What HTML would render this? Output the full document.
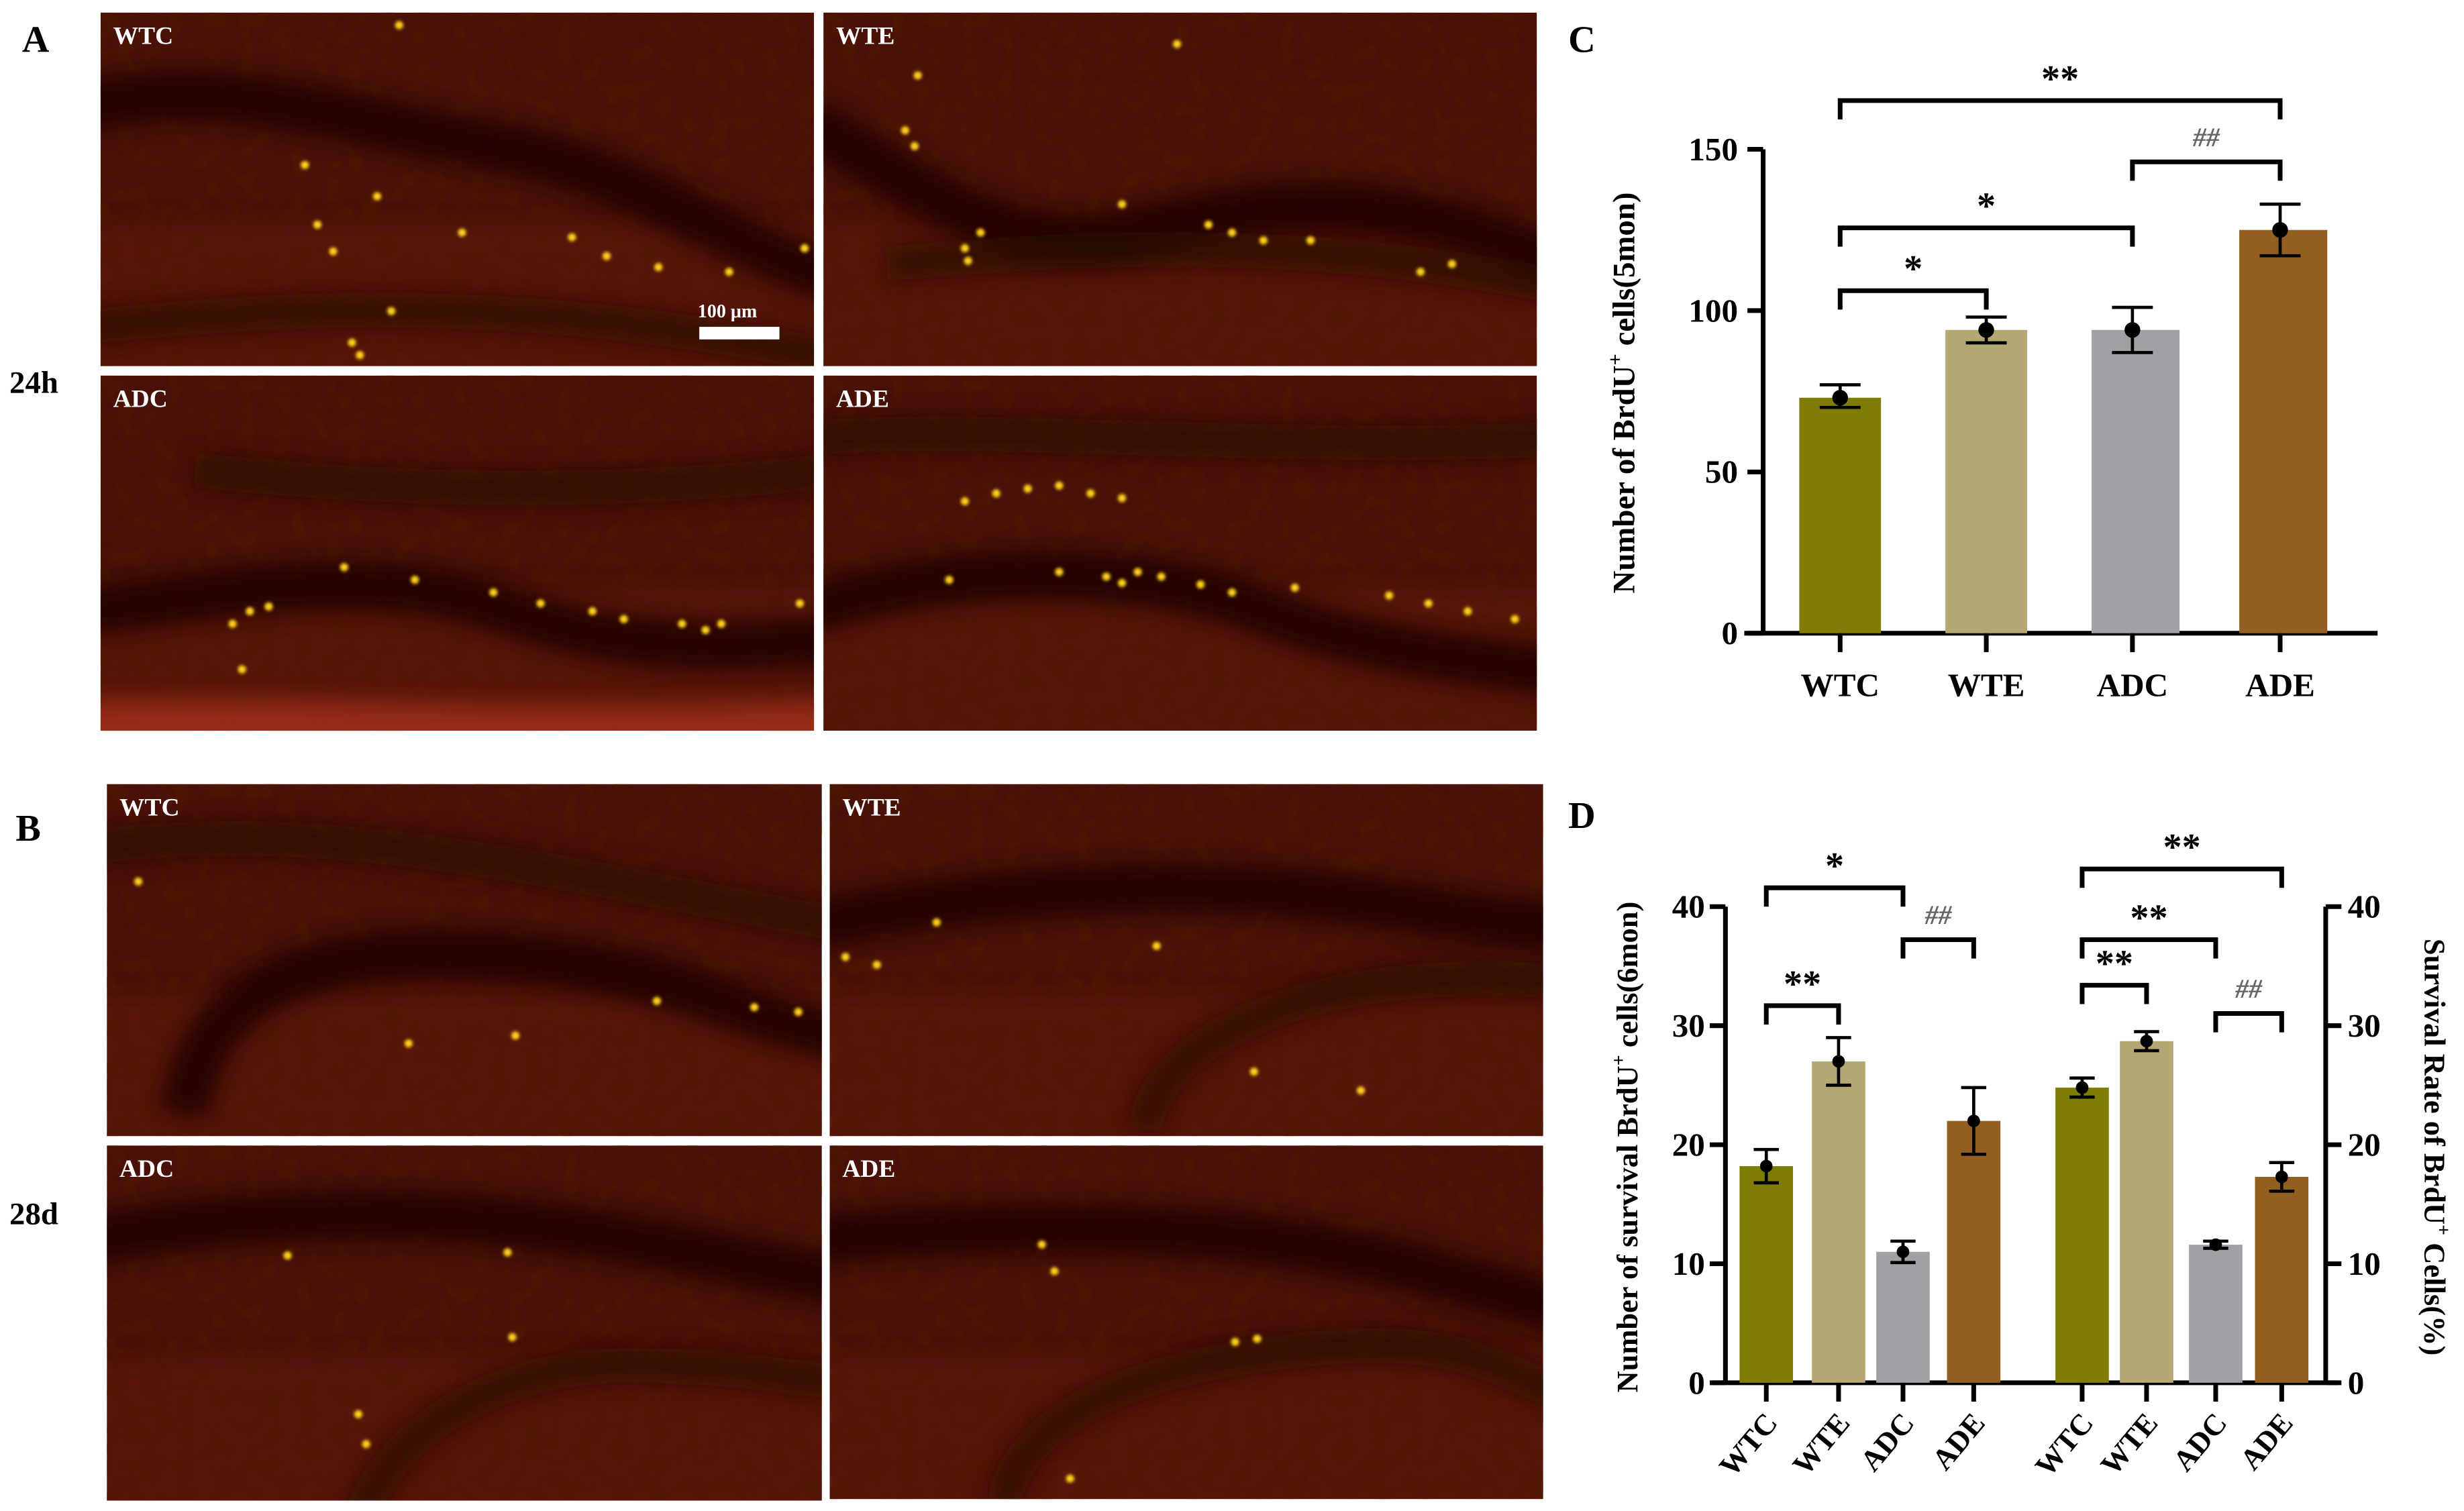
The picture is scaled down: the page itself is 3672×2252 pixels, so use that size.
<!DOCTYPE html>
<html><head><meta charset="utf-8"><style>
html,body{margin:0;padding:0;background:#fff;}
svg{display:block;}
text{font-family:"Liberation Serif",serif;font-weight:bold;}
</style></head><body>
<svg id="fig" xmlns="http://www.w3.org/2000/svg" width="3672" height="2252" viewBox="0 0 1568 961.6" preserveAspectRatio="none">
<defs>
<filter id="bl" filterUnits="userSpaceOnUse" x="-100" y="-100" width="700" height="450"><feGaussianBlur stdDeviation="7"/></filter>
<filter id="bl2" filterUnits="userSpaceOnUse" x="-100" y="-100" width="700" height="450"><feGaussianBlur stdDeviation="1"/></filter>
<filter id="tex" filterUnits="userSpaceOnUse" x="0" y="0" width="460" height="230">
  <feTurbulence type="fractalNoise" baseFrequency="0.09" numOctaves="2" seed="4"/>
  <feColorMatrix type="matrix" values="0 0 0 0 0.08  0 0 0 0 0.01  0 0 0 0 0  0 0 0 -3.2 1.75"/>
</filter>
</defs>
<rect width="1568" height="962" fill="#fff"/>

<text x="14" y="33" font-size="24">A</text>
<text x="10" y="535" font-size="24">B</text>
<text x="6" y="250" font-size="20">24h</text>
<text x="6" y="779" font-size="20">28d</text>
<text x="998" y="33" font-size="24">C</text>
<text x="998" y="527" font-size="24">D</text>

<g id="panels"></g>
<g id="chartC"></g>
<g id="chartD"></g>
</svg>
<script>
// ---------- Chart C data ----------
const cCategories = ["WTC","WTE","ADC","ADE"];
const cValues = [73, 94, 94, 125];
const cErrHi = [77, 98, 101, 133];
const cErrLo = [70, 90, 87, 117];
const cTicks = [0, 50, 100, 150];
// ---------- Chart D data ----------
const dCategories = ["WTC","WTE","ADC","ADE"];
const dCountValues = [18.2, 27.0, 11.0, 22.0];
const dCountErr = [1.4, 2.0, 0.9, 2.8];
const dRateValues = [24.8, 28.7, 11.6, 17.3];
const dRateErr = [0.8, 0.8, 0.3, 1.2];
const dTicks = [0, 10, 20, 30, 40];
const colors = ["#7f7d06","#b3a873","#a1a0a4","#935f21"];

const NS = "http://www.w3.org/2000/svg";
function mk(tag, attrs, parent, txt){
  const e = document.createElementNS(NS, tag);
  for (const k in attrs) e.setAttribute(k, attrs[k]);
  if (txt !== undefined) e.textContent = txt;
  parent.appendChild(e);
  return e;
}

// ---------- Microscopy panels ----------
const panelsG = document.getElementById('panels');
const panelDefs = [
 {x:64,y:8,w:454,h:225,lab:"WTC",band:"M-10 60 C 80 40, 160 70, 250 85 S 400 150, 470 170",band2:"M-10 200 C 100 190, 250 175, 470 220",dots:[[130,97],[176,117],[138,135],[148,152],[230,140],[300,143],[322,155],[355,162],[400,165],[448,150],[160,210],[165,218],[185,190],[190,8]]},
 {x:524,y:8,w:454,h:225,lab:"WTE",band:"M-10 70 C 60 110, 120 160, 200 140 S 350 110, 470 160",band2:"M40 160 C 150 150, 300 140, 470 175",dots:[[52,75],[58,85],[90,150],[92,158],[100,140],[190,122],[245,135],[260,140],[280,145],[310,145],[380,165],[400,160],[225,20],[60,40]]},
 {x:64,y:239,w:454,h:226,lab:"ADC",band:"M-10 150 C 80 140, 170 120, 260 150 S 400 170, 470 170",band2:"M60 60 C 150 70, 300 80, 470 60",dots:[[84,158],[95,150],[107,147],[155,122],[200,130],[250,138],[280,145],[313,150],[333,155],[370,158],[385,162],[395,158],[445,145],[90,187]]},
 {x:524,y:239,w:454,h:226,lab:"ADE",band:"M-10 150 C 80 120, 200 120, 280 150 S 420 180, 470 190",band2:"M-10 40 C 100 30, 300 50, 470 40",dots:[[90,80],[110,75],[130,72],[150,70],[170,75],[190,78],[150,125],[180,128],[190,132],[200,125],[215,128],[240,133],[260,138],[300,135],[360,140],[385,145],[410,150],[440,155],[80,130]]},
 {x:68,y:499,w:455,h:224,lab:"WTC",band:"M50 210 C 60 120, 150 100, 260 110 S 400 150, 470 160",band2:"M-10 40 C 150 20, 300 60, 470 90",dots:[[20,62],[260,160],[350,138],[192,165],[412,142],[440,145]]},
 {x:528,y:499,w:454,h:224,lab:"WTE",band:"M-10 90 C 80 70, 200 60, 300 70 S 420 90, 470 90",band2:"M200 220 C 210 160, 300 130, 380 125 S 440 130, 470 120",dots:[[10,110],[30,115],[68,88],[208,103],[270,183],[338,195]]},
 {x:68,y:729,w:455,h:226,lab:"ADC",band:"M-10 60 C 100 40, 200 40, 300 55 S 420 80, 470 85",band2:"M160 240 C 180 180, 250 140, 330 140 S 440 150, 470 150",dots:[[115,70],[255,68],[258,122],[165,190],[160,171]]},
 {x:528,y:729,w:454,h:225,lab:"ADE",band:"M-10 60 C 100 50, 250 45, 380 80 S 440 100, 470 100",band2:"M110 230 C 120 170, 200 140, 300 130 S 420 140, 470 160",dots:[[135,63],[143,80],[258,125],[272,123],[153,212]]}
];
panelDefs.forEach((p,i)=>{
  const g = mk('g',{transform:`translate(${p.x},${p.y})`},panelsG);
  
  
  const cp = mk('clipPath',{id:'pc'+i},g);
  mk('rect',{x:0,y:0,width:p.w,height:p.h},cp);
  const inner = mk('g',{'clip-path':`url(#pc${i})`},g);
  mk('rect',{x:0,y:0,width:p.w,height:p.h,fill:'#4a1109'},inner);
  mk('rect',{x:-20,y:p.h*0.6,width:p.w+40,height:p.h*0.5,fill:'#6a1d0e',opacity:0.45,filter:'url(#bl)'},inner);
  mk('rect',{x:0,y:0,width:p.w,height:p.h,filter:'url(#tex)',opacity:0.7},inner);
  mk('path',{d:p.band,stroke:'#1a0402',fill:'none','stroke-width':30,filter:'url(#bl)',opacity:0.85},inner);
  mk('path',{d:p.band2,stroke:'#250703',fill:'none','stroke-width':22,filter:'url(#bl)',opacity:0.65},inner);
  if (i===2) mk('path',{d:`M-20 ${p.h-18} C 120 ${p.h-24}, 300 ${p.h-8}, 480 ${p.h-20} V ${p.h+20} H -20 Z`,fill:'#a8321a',filter:'url(#bl)',opacity:0.8},inner);
  p.dots.forEach(d=>{
    const c = mk('circle',{cx:d[0],cy:d[1],r:2.6,fill:'#ffd21e',filter:'url(#bl2)'},inner);
    
    
  });
  const t = mk('text',{x:8,y:20,'font-size':16,fill:'#fff'},g,p.lab);
  
  
});
{
  const sb = mk('text',{x:444,y:202,'font-size':12,fill:'#fff'},panelsG,'100 μm');
  
  
  const sr = mk('rect',{x:445,y:208,width:51,height:8,fill:'#fff'},panelsG);
  
  
}

function bracket(g, x1, x2, y, tip, label, hash){
  const p = mk('path',{d:`M${x1} ${y+tip} V${y} H${x2} V${y+tip}`,fill:'none',stroke:'#000','stroke-width':3},g);
  
  
  const t = mk('text',{x:(x1+x2)/2,y:hash? y-10 : y-6,'text-anchor':'middle','font-size':hash?17:24,fill:hash?'#666':'#000','font-style':hash?'italic':'normal','font-weight':hash?'normal':'bold'},g,label);
  
  
}

// ---------- Chart C ----------
{
  const g = document.getElementById('chartC');
  const y0=403, yTop=95, vmax=150;
  const yS = v => y0 - (v/vmax)*(y0-yTop);
  const xC = [1171,1264,1357,1451];
  const bw=62;
  mk('line',{x1:1122,y1:yTop,x2:1122,y2:y0,stroke:'#000','stroke-width':3},g);
  const xa = mk('line',{x1:1110,y1:y0,x2:1513,y2:y0,stroke:'#000','stroke-width':3},g);
   
  cTicks.forEach(t=>{
    mk('line',{x1:1112,y1:yS(t),x2:1122,y2:yS(t),stroke:'#000','stroke-width':3},g);
    const tl = mk('text',{x:1106,y:yS(t)+7,'text-anchor':'end','font-size':21},g,String(t));
     
  });
  cCategories.forEach((c,i)=>{
    const x=xC[i];
    const b = mk('rect',{x:x-bw/2+5,y:yS(cValues[i]),width:bw-10+ (i>=2?4:0),height:y0-yS(cValues[i]),fill:colors[i]},g);
     
    mk('line',{x1:x,y1:y0,x2:x,y2:y0+12,stroke:'#000','stroke-width':3},g);
    mk('path',{d:`M${x-13} ${yS(cErrHi[i])} H${x+13} M${x} ${yS(cErrHi[i])} V${yS(cErrLo[i])} M${x-13} ${yS(cErrLo[i])} H${x+13}`,stroke:'#000','stroke-width':2,fill:'none'},g);
    mk('circle',{cx:x,cy:yS(cValues[i]),r:5,fill:'#000'},g);
    const xl = mk('text',{x:x,y:y0+40,'text-anchor':'middle','font-size':21},g,c);
     
  });
  const yt = mk('text',{transform:`translate(1040,250) rotate(-90)`,'text-anchor':'middle','font-size':20},g);
   
  yt.innerHTML = 'Number of BrdU<tspan dy="-8" font-size="13">+</tspan><tspan dy="8"> cells(5mon)</tspan>';
  bracket(g,1171,1451,64,12,'**');
  bracket(g,1357,1451,103,12,'##',true);
  bracket(g,1171,1357,145,12,'*');
  bracket(g,1171,1264,185,12,'*');
}

// ---------- Chart D ----------
{
  const g = document.getElementById('chartD');
  const y0=880, yTop=577, vmax=40;
  const yS = v => y0 - (v/vmax)*(y0-yTop);
  const xL = [1124,1170,1211,1256];
  const xR = [1325,1366,1410,1452];
  const bw=34;
  mk('line',{x1:1098,y1:yTop,x2:1098,y2:y0,stroke:'#000','stroke-width':3},g);
  mk('line',{x1:1480,y1:yTop,x2:1480,y2:y0,stroke:'#000','stroke-width':3},g);
  const xa = mk('line',{x1:1090,y1:y0,x2:1488,y2:y0,stroke:'#000','stroke-width':3},g);
   
  dTicks.forEach(t=>{
    mk('line',{x1:1088,y1:yS(t),x2:1098,y2:yS(t),stroke:'#000','stroke-width':3},g);
    mk('line',{x1:1480,y1:yS(t),x2:1490,y2:yS(t),stroke:'#000','stroke-width':3},g);
    const tl = mk('text',{x:1085,y:yS(t)+7,'text-anchor':'end','font-size':21},g,String(t));
     
    const tr = mk('text',{x:1494,y:yS(t)+7,'text-anchor':'start','font-size':21},g,String(t));
     
  });
  function series(xs, vals, errs, tag){
    dCategories.forEach((c,i)=>{
      const x=xs[i];
      const b = mk('rect',{x:x-bw/2,y:yS(vals[i]),width:bw,height:y0-yS(vals[i]),fill:colors[i]},g);
       
      mk('line',{x1:x,y1:y0,x2:x,y2:y0+12,stroke:'#000','stroke-width':3},g);
      const hi=yS(vals[i]+errs[i]), lo=yS(vals[i]-errs[i]);
      mk('path',{d:`M${x-8} ${hi} H${x+8} M${x} ${hi} V${lo} M${x-8} ${lo} H${x+8}`,stroke:'#000','stroke-width':2,fill:'none'},g);
      mk('circle',{cx:x,cy:yS(vals[i]),r:4,fill:'#000'},g);
      const xl = mk('text',{transform:`translate(${x+8},${y0+26}) rotate(-50)`,'text-anchor':'end','font-size':19},g,c);
       
    });
  }
  series(xL,dCountValues,dCountErr,'count');
  series(xR,dRateValues,dRateErr,'rate');
  const yt = mk('text',{transform:`translate(1042,730) rotate(-90)`,'text-anchor':'middle','font-size':19},g);
   
  yt.innerHTML = 'Number of survival BrdU<tspan dy="-8" font-size="12">+</tspan><tspan dy="8"> cells(6mon)</tspan>';
  const yr = mk('text',{transform:`translate(1543,730) rotate(90)`,'text-anchor':'middle','font-size':19},g);
   
  yr.innerHTML = 'Survival Rate of BrdU<tspan dy="-8" font-size="12">+</tspan><tspan dy="8"> Cells(%)</tspan>';
  bracket(g,1124,1211,565,12,'*');
  bracket(g,1124,1170,640,12,'**');
  bracket(g,1211,1256,598,12,'##',true);
  bracket(g,1325,1452,553,12,'**');
  bracket(g,1325,1410,598,12,'**');
  bracket(g,1325,1366,627,12,'**');
  bracket(g,1410,1452,645,12,'##',true);
}
</script>
</body></html>
